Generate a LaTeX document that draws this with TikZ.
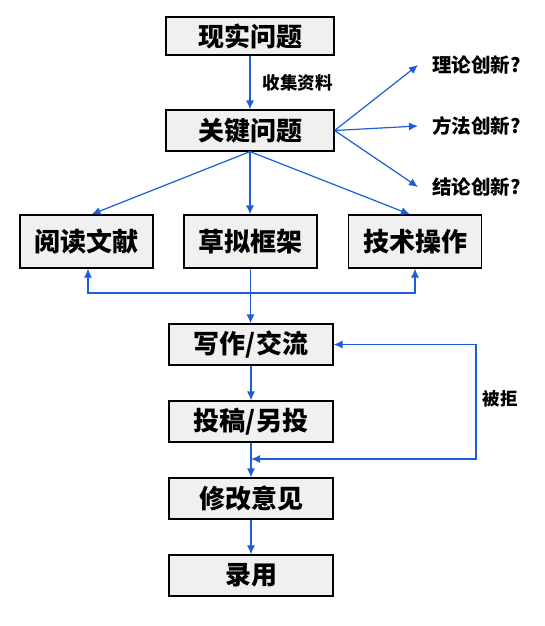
\documentclass[tikz,border=0pt]{standalone}
\usepackage{fontspec}
\setmainfont{Noto Sans CJK SC}
\usetikzlibrary{arrows.meta}
\definecolor{lineblue}{RGB}{28,94,214}
\definecolor{boxgray}{RGB}{240,240,240}
\begin{document}
\begin{tikzpicture}
      [x=1pt,y=-1pt,
      step node/.style={rectangle,draw=black,line width=1.2pt,fill=boxgray,
        inner sep=0pt,font=\fontsize{26}{30}\selectfont\bfseries},
      note node/.style={inner sep=0pt,font=\fontsize{17.5}{20}\selectfont\bfseries},
      flow/.style={draw=lineblue,line width=1.2pt,-{Latex[length=9pt,width=8pt]}}]
      \useasboundingbox (0,0) rectangle (544,626);
      % main column
      \node[step node,minimum width=168pt,minimum height=38pt] (xs) at (250,36) {现实问题};
      \node[step node,minimum width=168pt,minimum height=41pt] (gj) at (250,130.5) {关键问题};
      \node[step node,minimum width=133pt,minimum height=53pt] (yd) at (86.5,241.5) {阅读文献};
      \node[step node,minimum width=133pt,minimum height=53pt] (cn) at (250.5,241.5) {草拟框架};
      \node[step node,minimum width=133pt,minimum height=53pt] (js) at (415,241.5) {技术操作};
      \node[step node,minimum width=164pt,minimum height=41pt] (xz) at (251,344.5) {写作/交流};
      \node[step node,minimum width=164pt,minimum height=41pt] (tg) at (251,421.5) {投稿/另投};
      \node[step node,minimum width=164pt,minimum height=41pt] (xg) at (251,498.5) {修改意见};
      \node[step node,minimum width=164pt,minimum height=41pt] (ly) at (251,575.5) {录用};
      % questions on the right
      \node[note node,anchor=west,font=\fontsize{19.5}{22}\selectfont\bfseries] (ll) at (432,65) {理论创新?};
      \node[note node,anchor=west,font=\fontsize{19.5}{22}\selectfont\bfseries] (ff) at (432,126) {方法创新?};
      \node[note node,anchor=west,font=\fontsize{19.5}{22}\selectfont\bfseries] (jl) at (432,187) {结论创新?};
      \node[note node] (bj) at (500,399) {被拒};
      \coordinate (hb) at (250.5,293);
      \coordinate (jn) at (251,459);
      \coordinate (rt) at (476,344.5);
      \draw[flow] (xs.south) -- node[note node,right=12pt] {收集资料} (gj.north);
      \draw[flow] (gj.east) -- ([xshift=-14pt]ll.west);
      \draw[flow] (gj.east) -- ([xshift=-14pt]ff.west);
      \draw[flow] (gj.east) -- ([xshift=-14pt]jl.west);
      \draw[flow] (gj.south) -- ([xshift=5pt]yd.north);
      \draw[flow] (gj.south) -- (gj.south |- cn.north);
      \draw[flow] (gj.south) -- ([xshift=-5pt]js.north);
      \draw[flow] (cn.south) -- (cn.south |- xz.north);
      \draw[flow] (hb) -| ([xshift=1.5pt]yd.south);
      \draw[flow] (hb) -| (js.south);
      \draw[flow] (xz.south) -- (tg.north);
      \draw[flow] (tg.south) -- (xg.north);
      \draw[flow] (xg.south) -- (ly.north);
      \draw[flow,{Latex[length=9pt,width=8pt]}-{Latex[length=9pt,width=8pt]}] (xz.east) -- (rt) |- (jn);
    \end{tikzpicture}
\end{document}
